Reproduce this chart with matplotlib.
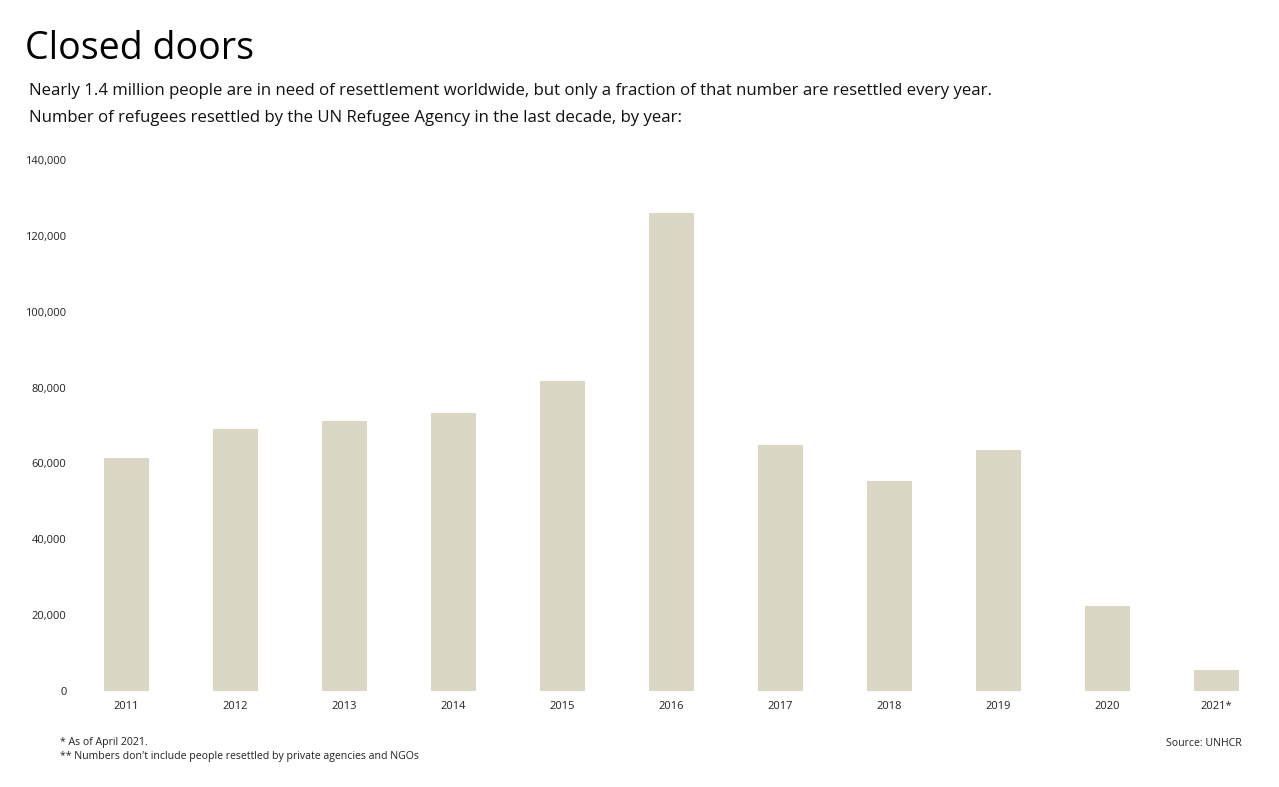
import matplotlib
matplotlib.use("Agg")
import matplotlib.pyplot as plt
from matplotlib.ticker import FuncFormatter

years = ["2011", "2012", "2013", "2014", "2015", "2016", "2017", "2018", "2019", "2020", "2021*"]
resettled = [61400, 69100, 71200, 73300, 81700, 126000, 64900, 55400, 63500, 22400, 5600]
y_ticks = [0, 20000, 40000, 60000, 80000, 100000, 120000, 140000]

W, H = 1279, 787
plt.rcParams['font.family'] = ['Open Sans', 'DejaVu Sans']
fig = plt.figure(figsize=(W / 100, H / 100), dpi=100)
fig.patch.set_facecolor("white")

def fx(px):
    return px / W

def fy(py):
    return 1 - py / H

ax = fig.add_axes([fx(72), fy(691), fx(1271) - fx(72), (691 - 160) / H])
x = list(range(len(years)))
ax.bar(x, resettled, width=0.42, color="#dad7c5", edgecolor="none")
ax.set_xlim(-0.5, 10.5)
ax.set_ylim(0, 140000)
ax.set_yticks(y_ticks)
ax.yaxis.set_major_formatter(FuncFormatter(lambda v, p: f"{int(v):,}"))
ax.set_xticks(x)
ax.set_xticklabels(years)
for s in ax.spines.values():
    s.set_visible(False)
ax.tick_params(axis="both", length=0, labelsize=8, colors="#222222")
ax.tick_params(axis="y", pad=4)
ax.tick_params(axis="x", pad=7.5)

fig.text(fx(25), fy(49), "Closed doors", fontsize=27, color="#000000", va="center", ha="left")
fig.text(fx(29), fy(91), "Nearly 1.4 million people are in need of resettlement worldwide, but only a fraction of that number are resettled every year.",
         fontsize=12.1, color="#111111", va="center", ha="left")
fig.text(fx(29), fy(118), "Number of refugees resettled by the UN Refugee Agency in the last decade, by year:",
         fontsize=12.1, color="#111111", va="center", ha="left")
fig.text(fx(60), fy(743), "* As of April 2021.", fontsize=7.6, color="#222222", va="center", ha="left")
fig.text(fx(60), fy(757), "** Numbers don't include people resettled by private agencies and NGOs", fontsize=7.6, color="#222222", va="center", ha="left")
fig.text(fx(1242), fy(743), "Source: UNHCR", fontsize=7.6, color="#222222", va="center", ha="right")

fig.savefig("out.png", dpi=100, facecolor="white")
